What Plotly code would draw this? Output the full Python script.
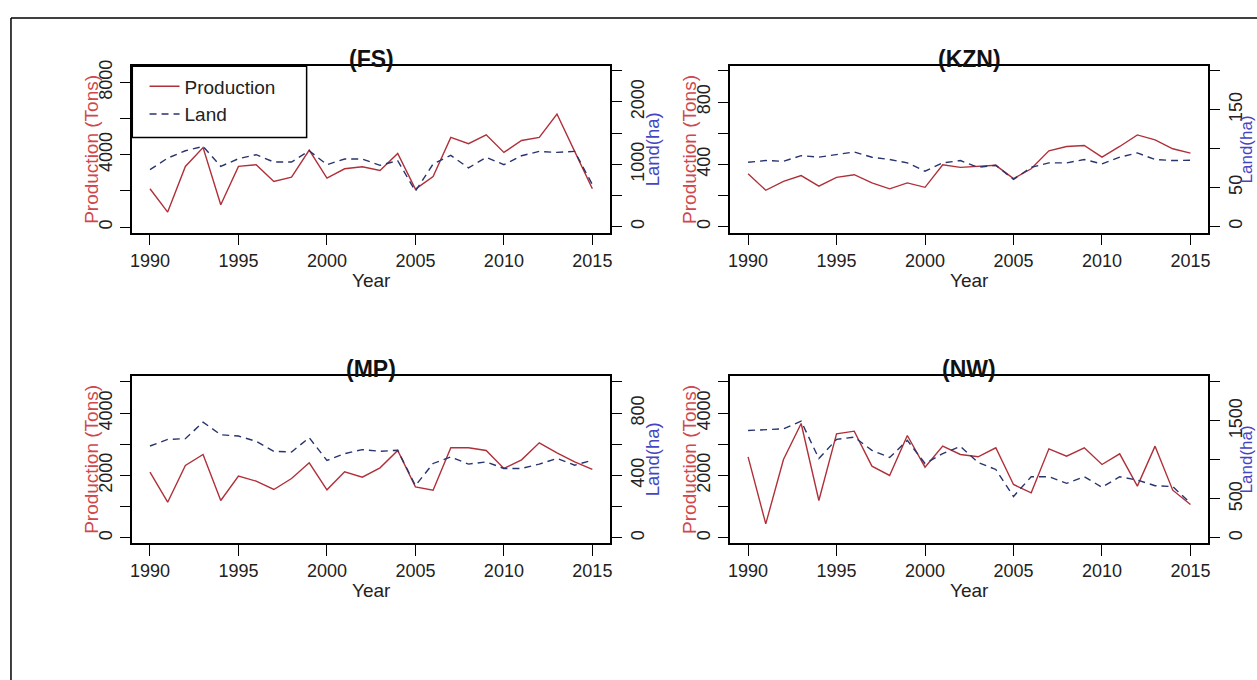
import plotly.graph_objects as go

years = list(range(1990, 2016))

fs_production = [2120, 830, 3355, 4400, 1235, 3355, 3450, 2525, 2765, 4260, 2710, 3225, 3335,
                 3135, 4075, 2100, 2800, 4960, 4610, 5105, 4130, 4790, 4960, 6250, 4185, 2120]
fs_land = [915, 1100, 1218, 1287, 968, 1090, 1154, 1037, 1037, 1218, 995, 1085, 1085,
           984, 1058, 569, 1005, 1144, 942, 1112, 995, 1138, 1207, 1191, 1207, 676]

kzn_production = [340, 234, 291, 328, 260, 317, 334, 281, 243, 281, 253, 398, 381,
                  387, 394, 309, 372, 487, 515, 521, 447, 515, 589, 557, 500, 472]
kzn_land = [82.5, 84.7, 83.8, 91, 89, 92.3, 95.7, 89, 86, 81.7, 71, 81.7, 84.7,
            76, 78.7, 60.4, 76, 81.7, 81.7, 86, 80.4, 89, 94.5, 86, 84.7, 85]

mp_production = [2107, 1144, 2321, 2674, 1198, 1979, 1818, 1551, 1904, 2406, 1540, 2118, 1947,
                 2246, 2802, 1636, 1529, 2888, 2888, 2802, 2225, 2503, 3048, 2727, 2439, 2193]
mp_land = [589, 631, 636, 742, 661, 653, 619, 555, 551, 642, 496, 540, 566,
           555, 562, 335, 477, 519, 473, 487, 445, 445, 473, 509, 466, 498]

nw_production = [2599, 449, 2513, 3668, 1198, 3337, 3422, 2299, 2000, 3283, 2267, 2941, 2674,
                 2599, 2888, 1711, 1444, 2856, 2620, 2888, 2353, 2695, 1658, 2941, 1529, 1070]
nw_land = [1377, 1386, 1398, 1496, 1017, 1263, 1292, 1123, 1030, 1250, 953, 1080, 1174,
           966, 877, 530, 784, 784, 699, 784, 648, 784, 741, 669, 657, 445]

x_ticks = [1990, 1995, 2000, 2005, 2010, 2015]

panel_names = ["(FS)", "(KZN)", "(MP)", "(NW)"]
productions = [fs_production, kzn_production, mp_production, nw_production]
lands = [fs_land, kzn_land, mp_land, nw_land]

left_ticks = [[0, 2000, 4000, 6000, 8000],
              [0, 200, 400, 600, 800, 1000],
              [0, 1000, 2000, 3000, 4000, 5000],
              [0, 1000, 2000, 3000, 4000, 5000]]
left_labels = [["0", "", "4000", "", "8000"],
               ["0", "", "400", "", "800", ""],
               ["0", "", "2000", "", "4000", ""],
               ["0", "", "2000", "", "4000", ""]]
right_ticks = [[0, 500, 1000, 1500, 2000, 2500],
               [0, 50, 100, 150, 200],
               [0, 200, 400, 600, 800, 1000],
               [0, 500, 1000, 1500, 2000]]
right_labels = [["0", "", "1000", "", "2000", ""],
                ["0", "50", "", "150", ""],
                ["0", "", "400", "", "800", ""],
                ["0", "500", "", "1500", ""]]

# ---------- layout / style (not data) ----------
W, H = 1257, 680
boxes = [(130.7, 60.7, 610.0, 228.7), (730.7, 60.7, 1210.0, 228.7),
         (130.7, 373.3, 610.0, 541.6), (730.7, 373.3, 1210.0, 541.6)]
left_ranges = [[-310, 8900], [-38, 1030], [-159, 5190], [-159, 5190]]
right_ranges = [[-96, 2574], [-8, 206], [-32, 1038], [-64, 2076]]
land_label_x = [652.0, 1248.0, 652.0, 1248.0]
land_label_size = [18.5, 17, 18.5, 17]

PROD_COL = "#B0303A"
LAND_COL = "#28346E"
PROD_LAB = "#D0464C"
LAND_LAB = "#4545C4"
FONT = "Liberation Sans, Arial, sans-serif"
TXT = "#222222"


def px(x):
    return x / W


def py(y):
    return 1 - y / H


fig = go.Figure()
layout = dict(width=W, height=H, margin=dict(l=0, r=0, t=0, b=0),
              paper_bgcolor="white", plot_bgcolor="white",
              font=dict(family=FONT, size=18, color=TXT),
              showlegend=True)
annotations = []

for i in range(4):
    L, T, R, B = boxes[i]
    xn = "x" if i == 0 else f"x{i + 1}"
    yl = 2 * i + 1
    yr = 2 * i + 2
    yln = "y" if yl == 1 else f"y{yl}"
    yrn = f"y{yr}"

    fig.add_trace(go.Scatter(x=years, y=productions[i], mode="lines", name="Production",
                             line=dict(color=PROD_COL, width=1.4),
                             xaxis=xn, yaxis=yln, showlegend=(i == 0), legendgroup="p"))
    fig.add_trace(go.Scatter(x=years, y=lands[i], mode="lines", name="Land",
                             line=dict(color=LAND_COL, width=1.4, dash="7px,5px"),
                             xaxis=xn, yaxis=yrn, showlegend=(i == 0), legendgroup="l"))

    xkey = "xaxis" if i == 0 else f"xaxis{i + 1}"
    ylkey = "yaxis" if yl == 1 else f"yaxis{yl}"
    yrkey = f"yaxis{yr}"

    layout[xkey] = dict(domain=[px(L), px(R)], range=[1989, 2016], anchor=yln,
                        tickvals=x_ticks, ticks="outside", ticklen=11, tickwidth=1.4,
                        tickcolor="black", showline=True, mirror=True, linecolor="black",
                        linewidth=1.5, showgrid=False, zeroline=False,
                        tickfont=dict(size=18, color=TXT, family=FONT))
    layout[ylkey] = dict(domain=[py(B), py(T)], range=left_ranges[i], anchor=xn,
                         tickvals=left_ticks[i], ticktext=left_labels[i], tickangle=-90,
                         ticks="outside", ticklen=11, tickwidth=1.4, tickcolor="black",
                         showline=True, mirror=True, linecolor="black", linewidth=1.5,
                         showgrid=False, zeroline=False,
                         tickfont=dict(size=18, color=TXT, family=FONT))
    layout[yrkey] = dict(range=right_ranges[i], overlaying=yln, side="right", anchor=xn,
                         tickvals=right_ticks[i], ticktext=right_labels[i], tickangle=-90,
                         ticks="outside", ticklen=11, tickwidth=1.4, tickcolor="black",
                         showline=False, showgrid=False, zeroline=False,
                         tickfont=dict(size=18, color=TXT, family=FONT))

    cx = (L + R) / 2
    cy = (T + B) / 2
    annotations.append(dict(text="<b>" + panel_names[i] + "</b>", x=px(cx), y=py(T - 7.5),
                            xref="paper", yref="paper", showarrow=False,
                            xanchor="center", yanchor="middle",
                            font=dict(size=23, color="#111111", family=FONT)))
    annotations.append(dict(text="Year", x=px(cx), y=py(B + 48), xref="paper", yref="paper",
                            showarrow=False, xanchor="center", yanchor="middle",
                            font=dict(size=19, color=TXT, family=FONT)))
    annotations.append(dict(text="Production (Tons)", x=px(L - 41), y=py(cy), xref="paper",
                            yref="paper", showarrow=False, textangle=-90,
                            xanchor="center", yanchor="middle",
                            font=dict(size=19, color=PROD_LAB, family=FONT)))
    annotations.append(dict(text="Land(ha)", x=px(land_label_x[i]), y=py(cy), xref="paper",
                            yref="paper", showarrow=False, textangle=-90,
                            xanchor="center", yanchor="middle",
                            font=dict(size=land_label_size[i], color=LAND_LAB, family=FONT)))

layout["annotations"] = annotations
layout["legend"] = dict(x=px(143), y=py(62), xanchor="left", yanchor="top",
                        bgcolor="rgba(0,0,0,0)", borderwidth=0,
                        font=dict(size=19, color=TXT, family=FONT),
                        traceorder="normal", tracegroupgap=0)
layout["shapes"] = [
    # legend frame (white box on top of the curves, legend entries drawn over it)
    dict(type="rect", xref="paper", yref="paper", x0=px(130.7), x1=px(305.6),
         y0=py(132.7), y1=py(60.7), fillcolor="white", layer="above",
         line=dict(color="black", width=1.5)),
    # outer figure frame
    dict(type="line", xref="paper", yref="paper", x0=px(9), x1=px(9), y0=py(12), y1=-0.05,
         line=dict(color="black", width=1.5)),
    dict(type="line", xref="paper", yref="paper", x0=px(9), x1=1.05, y0=py(12), y1=py(12),
         line=dict(color="black", width=1.5)),
]

fig.update_layout(**layout)
fig.write_html("out.html")
